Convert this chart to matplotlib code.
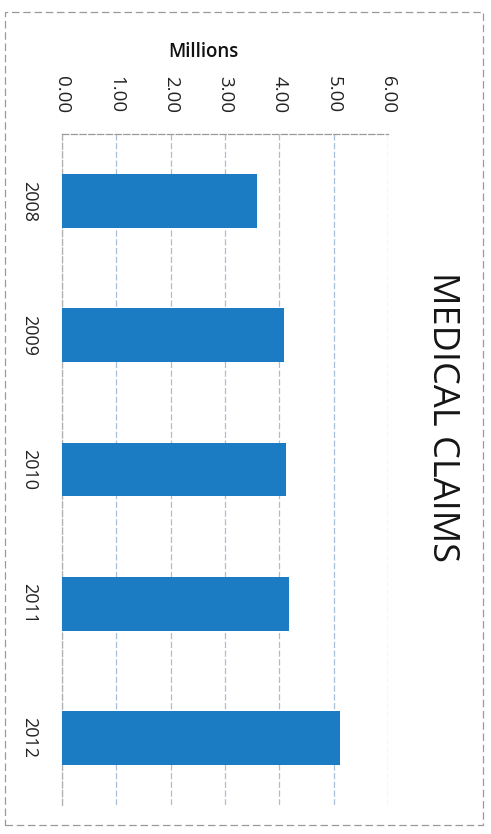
import matplotlib
matplotlib.use("Agg")
import matplotlib.pyplot as plt
from matplotlib.patches import Rectangle

years = ["2008", "2009", "2010", "2011", "2012"]
claims_millions = [3.58, 4.08, 4.13, 4.17, 5.12]
value_ticks = [0, 1, 2, 3, 4, 5, 6]
value_tick_labels = ["0.00", "1.00", "2.00", "3.00", "4.00", "5.00", "6.00"]
title = "MEDICAL CLAIMS"
axis_unit = "Millions"

plt.rcParams['font.family'] = ['Open Sans', 'DejaVu Sans']

W, H = 491, 834
fig = plt.figure(figsize=(W / 100, H / 100), dpi=100)
fig.patch.set_facecolor("white")

x0, x1 = 62, 388
y0, y1 = 134, 805
ax = fig.add_axes([x0 / W, 1 - y1 / H, (x1 - x0) / W, (y1 - y0) / H])

pos = list(range(len(years)))
ax.barh(pos, claims_millions, height=0.40, color="#1b7cc4", zorder=3)
ax.set_xlim(0, 6)
ax.set_ylim(len(years) - 0.5, -0.5)

grid_col = "#a9bfd8"
ax.set_xticks(value_ticks)
ax.set_xticklabels(value_tick_labels, rotation=-90, fontsize=13.5, color="#222222")
ax.xaxis.tick_top()
ax.tick_params(axis="x", length=0, pad=15)
ax.set_yticks(pos)
ax.set_yticklabels(years, rotation=-90, fontsize=13, color="#222222", va="center")
ax.tick_params(axis="y", length=0, pad=17.5)
ax.grid(axis="x", color=grid_col, linewidth=0.9, linestyle=(0, (5, 2)), zorder=0)
for s in ["right", "bottom"]:
    ax.spines[s].set_visible(False)
ax.spines["top"].set_color("#9a9a9a")
ax.spines["top"].set_linestyle((0, (5, 2)))
ax.spines["top"].set_linewidth(0.9)
ax.spines["left"].set_color("#b0b0b0")
ax.spines["left"].set_linestyle((0, (5, 2)))
ax.spines["left"].set_linewidth(0.9)

fig.text(203 / W, 1 - 52 / H, axis_unit, fontsize=13.5, fontweight="semibold",
         ha="center", va="center", color="#111111")
fig.text(442 / W, 1 - 417 / H, title, fontsize=26, rotation=-90,
         ha="center", va="center", color="#151515")

fig.patches.append(Rectangle((5 / W, 1 - 825 / H), 478 / W, 813 / H,
                             transform=fig.transFigure, fill=False,
                             edgecolor="#9a9a9a", linewidth=0.9,
                             linestyle=(0, (6, 3))))

fig.savefig("out.png", dpi=100)
